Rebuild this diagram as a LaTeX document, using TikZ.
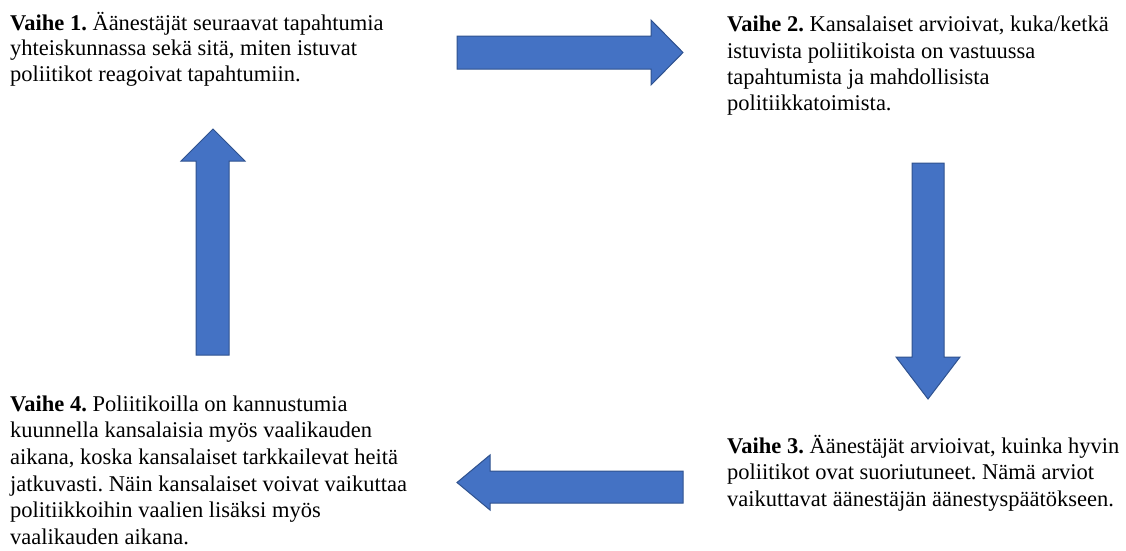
\documentclass[tikz,border=0pt]{standalone}
\usepackage{fontspec}
\setmainfont{Liberation Serif}
\definecolor{arrowfill}{HTML}{4472C4}
\definecolor{arrowline}{HTML}{2F528F}
\newcommand{\firststrut}{\rule{0pt}{20pt}}
\begin{document}
\begin{tikzpicture}[x=1pt,y=-1pt,
  blockarrow/.style={fill=arrowfill,draw=arrowline,line width=1pt,line join=miter},
  stagetext/.style={anchor=north west,inner sep=0pt,align=left,
    font=\fontsize{22.5}{#1}\selectfont\frenchspacing},
  stagetext/.default=26.5]
\useasboundingbox (0,0) rectangle (1126,550);
% right arrow
\draw[blockarrow] (457,36) -- (651,36) -- (651,20) -- (683,52.5) -- (651,85) -- (651,69) -- (457,69) -- cycle;
% down arrow
\draw[blockarrow] (912,163) -- (944,163) -- (944,357) -- (960,357) -- (928,399) -- (896,357) -- (912,357) -- cycle;
% left arrow
\draw[blockarrow] (683,471) -- (683,503) -- (490,503) -- (490,510) -- (457,482.5) -- (490,455) -- (490,471) -- cycle;
% up arrow
\draw[blockarrow] (196,355) -- (229,355) -- (229,161) -- (245,161) -- (213,129) -- (181,161) -- (196,161) -- cycle;
\node[stagetext=25.5] (s1) at (10,10) {\firststrut\textbf{Vaihe 1.} Äänestäjät seuraavat tapahtumia\\yhteiskunnassa sekä sitä, miten istuvat\\poliitikot reagoivat tapahtumiin.};
\node[stagetext=26.3] (s2) at (727,11.7) {\firststrut\textbf{Vaihe 2.} Kansalaiset arvioivat, kuka/ketkä\\istuvista poliitikoista on vastuussa\\tapahtumista ja mahdollisista\\politiikkatoimista.};
\node[stagetext=26.5] (s3) at (727,433) {\firststrut\textbf{Vaihe 3.} Äänestäjät arvioivat, kuinka hyvin\\poliitikot ovat suoriutuneet. Nämä arviot\\vaikuttavat äänestäjän äänestyspäätökseen.};
\node[stagetext=26.6] (s4) at (10,391) {\firststrut\textbf{Vaihe 4.} Poliitikoilla on kannustumia\\kuunnella kansalaisia myös vaalikauden\\aikana, koska kansalaiset tarkkailevat heitä\\jatkuvasti. Näin kansalaiset voivat vaikuttaa\\politiikkoihin vaalien lisäksi myös\\vaalikauden aikana.};
\end{tikzpicture}
\end{document}
